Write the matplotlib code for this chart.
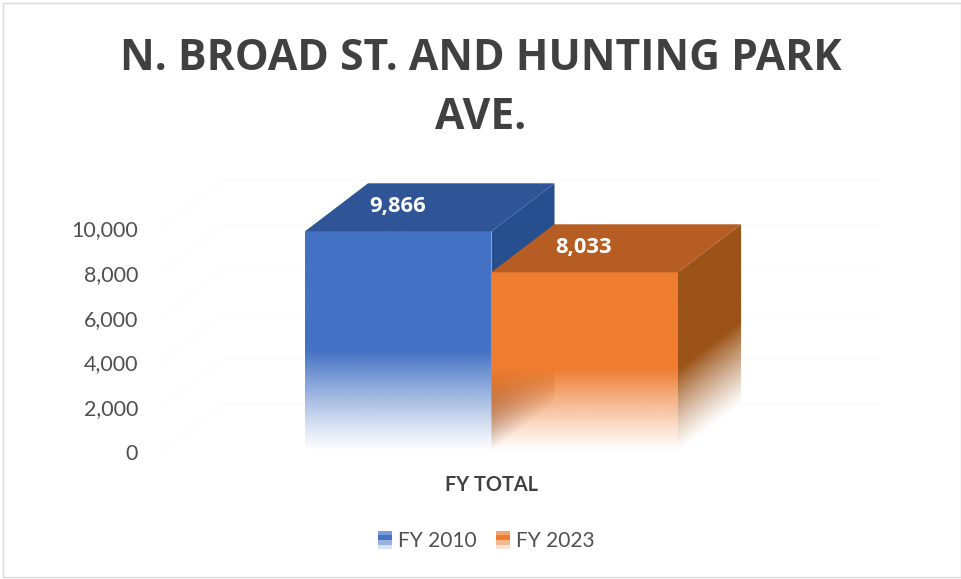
import numpy as np
import matplotlib
matplotlib.use("Agg")
import matplotlib.pyplot as plt
from matplotlib.colors import to_rgb
from matplotlib.legend_handler import HandlerBase
from matplotlib.patches import Patch, Polygon, Rectangle

# ---- data
categories = ["FY TOTAL"]
series_names = ["FY 2010", "FY 2023"]
series_values = [9866, 8033]
y_ticks = [0, 2000, 4000, 6000, 8000, 10000]
title = "N. BROAD ST. AND HUNTING PARK\nAVE."

# ---- style
W, H = 962, 579
front_cols = ["#4472c4", "#ee7d30"]
top_cols = ["#2f5597", "#b55d23"]
side_cols = ["#274f8f", "#9c5318"]
BAR_W = 1.0
DX = 0.338          # depth in category units
DY = 2146           # depth in value units
FADE_TOP = [4500, 3700]
GRID = "#fbfbfb"
TXT = "#505050"

fig = plt.figure(figsize=(W / 100, H / 100), dpi=100, facecolor="white")
fig.add_artist(Rectangle((3 / W, 1 - 577 / H), 958 / W, 574 / H, transform=fig.transFigure,
                         fill=False, ec="#d9d9d9", lw=1))

# axes: value 0 at pixel row 452, 0.02237 px per unit; 186.5 px per bar
px_l, px_r, px_b, px_t = 150, 833, 452, 170
ax = fig.add_axes([px_l / W, 1 - px_b / H, (px_r - px_l) / W, (px_b - px_t) / H])
xlim = ((px_l - 491.5) / 186.5, (px_r - 491.5) / 186.5)
ylim = (0, (px_b - px_t) / 0.02237)
ax.patch.set_alpha(0)
for s in ax.spines.values():
    s.set_visible(False)


def face(x0, x1, top, col, shear, fade_top, z):
    """Vertical face between x0 and x1; shear=True runs back into the depth."""
    dy = DY if shear else 0
    nx, ny = 160, 600
    xs = np.linspace(x0, x1, nx)
    ys = np.linspace(0, top + dy, ny)
    X, Y = np.meshgrid(xs, ys)
    d = (X - x0) / (x1 - x0) if shear else np.zeros_like(X)
    a = np.clip((Y - d * DY) / fade_top, 0, 1) ** 1.15
    rgba = np.zeros(a.shape + (4,))
    rgba[..., :3] = to_rgb(col)
    rgba[..., 3] = a
    im = ax.imshow(rgba, origin="lower", extent=(x0, x1, 0, top + dy), aspect="auto",
                   interpolation="bilinear", zorder=z)
    clip = Polygon([(x0, 0), (x1, dy), (x1, top + dy), (x0, top)], closed=True,
                   transform=ax.transData, fc="none", ec="none")
    im.set_clip_path(clip)


# faint back wall and side wall grid
x_back0 = (223 - 491.5) / 186.5
x_front0 = (160 - 491.5) / 186.5
x_back1 = (880 - 491.5) / 186.5
for t in y_ticks:
    ax.plot([x_front0, x_back0, x_back1], [t, t + DY, t + DY], color=GRID, lw=1, zorder=1, clip_on=False)

# bars (left one first)
lefts = [-BAR_W, 0]
for i, (val, l) in enumerate(zip(series_values, lefts)):
    r = l + BAR_W
    z = 3 + i * 3
    if i == 1:
        face(l, l + DX, val, side_cols[i], True, FADE_TOP[i], z)     # inner left face
    face(r, r + DX, val, side_cols[i], True, FADE_TOP[i], z)
    face(l, r, val, front_cols[i], False, FADE_TOP[i], z + 1)
    ax.fill([l, r, r + DX, l + DX], [val, val, val + DY, val + DY], color=top_cols[i], lw=0, zorder=z + 1,
            clip_on=False)
    ax.text((l + r) / 2 - 0.006, val + DY * 0.52, f"{val:,}", ha="center", va="center", color="white",
            fontsize=15.8, fontweight="bold", family="Open Sans", zorder=10)

ax.set_xlim(*xlim)
ax.set_ylim(*ylim)
ax.set_yticks(y_ticks)
ax.set_yticklabels([f"{t:,}" for t in y_ticks], family="Lato", fontsize=15.5, color=TXT)
ax.set_xticks([0])
ax.set_xticklabels(categories, family="Lato", fontweight="bold", fontsize=14.3, color="#404040")
ax.tick_params(axis="both", length=0)
ax.tick_params(axis="y", pad=8.5)
ax.tick_params(axis="x", pad=16.5)

fig.text(481 / W, 1 - 88 / H, title, ha="center", va="center", family="Open Sans", fontweight="bold",
         fontsize=30.7, color="#404040", linespacing=1.47)


class FadeSwatch(HandlerBase):
    def create_artists(self, legend, orig, xd, yd, width, height, fontsize, trans):
        out = []
        alphas = [0.7, 1.0, 0.55, 0.2]
        for k, al in enumerate(alphas):
            rect = Rectangle((-xd, -yd + height * (1 - (k + 1) / 4)), width, height / 4,
                             fc=orig.get_facecolor()[:3], alpha=al, lw=0, transform=trans)
            out.append(rect)
        return out


handles = [Patch(color=c, label=n) for c, n in zip(front_cols, series_names)]
leg = fig.legend(handles=handles, loc="center", bbox_to_anchor=(486.5 / W, 1 - 541 / H), ncol=2, frameon=False,
                 prop={"family": "Lato", "size": 15}, labelcolor=TXT, handlelength=0.67, handleheight=1.0,
                 handletextpad=0.29, columnspacing=0.96, handler_map={Patch: FadeSwatch()})

fig.savefig("out.png", dpi=100, facecolor="white")
